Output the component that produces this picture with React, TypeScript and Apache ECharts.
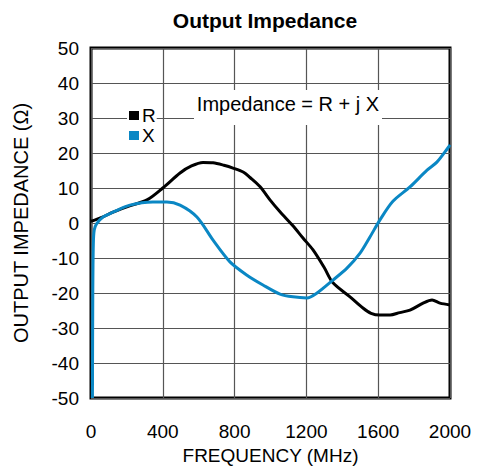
import React, { useEffect, useRef } from "react";
import * as echarts from "echarts";

const xTicks = [0, 400, 800, 1200, 1600, 2000];
const yTicks = [-50, -40, -30, -20, -10, 0, 10, 20, 30, 40, 50];

const rFreq = [0, 20, 60, 123, 200, 312, 400, 496, 560, 624, 680, 740, 791, 850, 886, 941, 997, 1053, 1125, 1181, 1237, 1300, 1348, 1443, 1515, 1560, 1610, 1666, 1720, 1777, 1850, 1900, 1944, 2000];
const rVals = [0.5, 0.8, 1.6, 3.1, 4.6, 6.6, 10, 14.3, 16.3, 17.3, 17.2, 16.5, 15.7, 14.5, 13, 10.4, 6.6, 3.2, -0.8, -4.3, -7.7, -12.8, -17.1, -21.1, -24.3, -25.8, -26.3, -26.3, -25.6, -24.9, -22.9, -22, -22.9, -23.4];

const xFreq = [8, 10, 13, 18, 30, 67, 123, 217, 345, 423, 496, 590, 680, 774, 869, 958, 1053, 1125, 1203, 1259, 1348, 1426, 1499, 1554, 1610, 1682, 1777, 1872, 1927, 1989, 2000];
const xVals = [-50, -20, -6, -2, -0.3, 1.7, 3.1, 5.1, 6, 6, 5.1, 1.7, -4.9, -11.1, -14.9, -17.7, -20.3, -21.1, -21.4, -20, -16.3, -12.9, -8.6, -4, 0.9, 6.2, 10.3, 15.1, 17.4, 21.5, 22.3];

const FONT = "Liberation Sans, Arial, sans-serif";

export default function App() {
  const ref = useRef<HTMLDivElement>(null);
  useEffect(() => {
    const chart = echarts.init(ref.current!, null, { renderer: "svg" });
    chart.setOption({
      animation: false,
      title: {
        text: "Output Impedance",
        left: 260,
        top: 5,
        textAlign: "center",
        textStyle: { fontFamily: FONT, fontSize: 21, fontWeight: "bold", color: "#000" },
      },
      grid: {
        left: 91,
        top: 48,
        right: 27,
        bottom: 72,
        show: true,
        borderColor: "#000",
        borderWidth: 3,
        backgroundColor: "transparent",
      },
      legend: {
        orient: "vertical",
        left: 127,
        top: 106,
        itemWidth: 10,
        itemHeight: 9,
        itemGap: 1,
        icon: "rect",
        padding: [0, 1, 0, 2],
        backgroundColor: "#fff",
        textStyle: { fontFamily: FONT, fontSize: 19, color: "#000", padding: [0, 0, 0, -2] },
        data: ["R", "X"],
        z: 10,
      },
      xAxis: {
        type: "value",
        min: xTicks[0],
        max: xTicks[xTicks.length - 1],
        interval: 400,
        name: "FREQUENCY (MHz)",
        nameLocation: "middle",
        nameGap: 47,
        nameTextStyle: { fontFamily: FONT, fontSize: 19, color: "#000" },
        axisLine: { show: false },
        axisTick: { show: false },
        axisLabel: {
          fontFamily: FONT,
          fontSize: 19,
          color: "#000",
          margin: 24,
          formatter: (v: number) => String(v),
        },
        splitLine: { show: true, lineStyle: { color: "#555", width: 1.2 } },
      },
      yAxis: {
        type: "value",
        min: yTicks[0],
        max: yTicks[yTicks.length - 1],
        interval: 10,
        name: "OUTPUT IMPEDANCE (Ω)",
        nameLocation: "middle",
        nameGap: 60,
        nameTextStyle: { fontFamily: FONT, fontSize: 20, color: "#000" },
        axisLine: { show: false },
        axisTick: { show: false },
        axisLabel: { fontFamily: FONT, fontSize: 19, color: "#000", margin: 12 },
        splitLine: { show: true, lineStyle: { color: "#555", width: 1.2 } },
      },
      graphic: [
        {
          type: "rect",
          shape: { x: 194, y: 90, width: 188, height: 35 },
          style: { fill: "#fff" },
          z: 5,
        },
        {
          type: "text",
          x: 288,
          y: 104,
          style: {
            text: "Impedance = R + j X",
            fontFamily: FONT,
            fontSize: 20,
            fill: "#000",
            align: "center",
            verticalAlign: "middle",
          },
          z: 6,
        },
      ],
      series: [
        {
          name: "R",
          type: "line",
          smooth: 0.3,
          showSymbol: false,
          data: rFreq.map((f, i) => [f, rVals[i]]),
          lineStyle: { color: "#000", width: 3 },
          itemStyle: { color: "#000" },
          z: 3,
        },
        {
          name: "X",
          type: "line",
          smooth: 0.3,
          showSymbol: false,
          data: xFreq.map((f, i) => [f, xVals[i]]),
          lineStyle: { color: "#0a87c4", width: 3 },
          itemStyle: { color: "#0a87c4" },
          z: 4,
        },
      ],
    });
    return () => chart.dispose();
  }, []);
  return (
    <div
      ref={ref}
      style={{ position: "absolute", left: 0, top: 0, width: 477, height: 470 }}
    />
  );
}
